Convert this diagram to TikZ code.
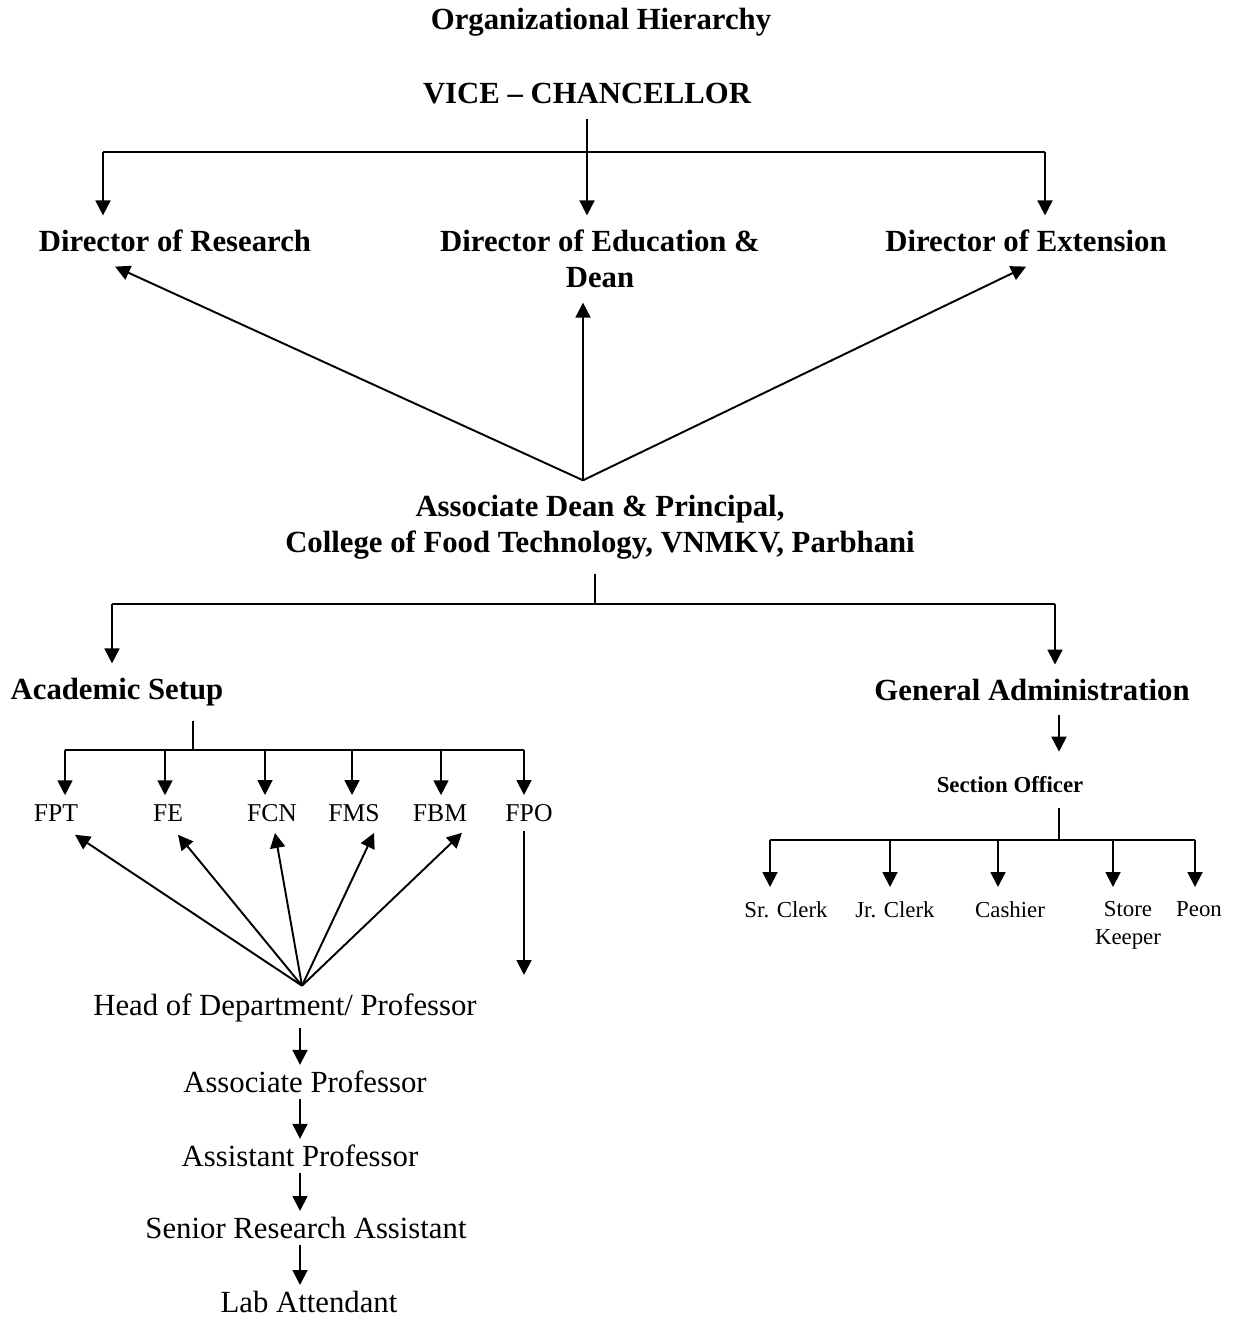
\documentclass[tikz,border=0pt]{standalone}
\usepackage{fontspec}
\setmainfont{Liberation Serif}
\usetikzlibrary{arrows.meta,calc}

\begin{document}
\begin{tikzpicture}[x=0.02cm, y=-0.02cm,
    head/.style={font=\fontsize{17.5}{20.5}\selectfont\bfseries, align=center, outer sep=5pt},
    rank/.style={font=\fontsize{17.5}{21}\selectfont},
    unit/.style={font=\fontsize{14.6}{17}\selectfont, outer sep=2pt},
    staff/.style={font=\fontsize{13}{15.5}\selectfont, align=center, anchor=north, outer sep=5pt},
    link/.style={line width=1.1pt},
    stem/.style={line width=0.8pt},
    arr/.style={line width=1.1pt, -{Triangle[length=8.5pt,width=8.5pt]}}]

    % Keep the page size
    \useasboundingbox (0,0) rectangle (1236,1317);

    % Title
    \node[head] (title) at (601,22) {Organizational Hierarchy};

    % Vice-Chancellor and the three directors
    \node[head] (vc) at (587,94) {VICE -- CHANCELLOR};
    \node[head] (dres) at (175,241) {Director of Research};
    \node[head] (dedu) at (600,259) {Director of Education \&\\Dean};
    \node[head] (dext) at (1026,241) {Director of Extension};

    \coordinate (vcL) at (103,152);
    \coordinate (vcR) at (1045,152);
    \draw[link] (vcL) -- (vcR);
    \draw[arr] (vcL) -- (vcL |- dres.north);
    \draw[arr] (vc.south) -- (vc.south |- dedu.north);
    \draw[arr] (vcR) -- (vcR |- dext.north);

    % Associate Dean reports to all three directors
    \node[head] (adean) at (600,527) {Associate Dean \& Principal,\\College of Food Technology, VNMKV, Parbhani};
    \coordinate (apex) at ($(adean.north)+(-17,0)$);
    \draw[arr] (apex) -- ($(dres.south)+(-60,0)$);
    \draw[arr] (apex) -- (apex |- dedu.south);
    \draw[arr] (apex) -- (dext.south);

    % Two wings of the college
    \node[head] (acad) at (117,692) {Academic Setup};
    \node[head] (gadm) at (1032,690) {General Administration};
    \coordinate (adL) at (112,604);
    \coordinate (adR) at (1055,604);
    \coordinate (adM) at (595,604);
    \draw[stem] (adean.south -| adM) -- (adM);
    \draw[link] (adL) -- (adR);
    \draw[arr] (adL) -- (adL |- acad.north);
    \draw[arr] (adR) -- (adR |- gadm.north);

    % Faculties under the academic setup
    \coordinate (acM) at (193,750);
    \draw[stem] (acad.south -| acM) -- (acM);
    \foreach \name/\lab/\x/\d in {fpt/FPT/56/65, fe/FE/168/165, fcn/FCN/272/265,
                                  fms/FMS/354/352, fbm/FBM/440/441, fpo/FPO/529/524}{
        \node[unit] (\name) at (\x,813) {\lab};
        \coordinate (\name-t) at (\d,750);
        \draw[arr] (\name-t) -- (\name-t |- \name.north);
    }
    \draw[link] (fpt-t) -- (fpo-t);

    % Teaching staff ladder
    \node[rank] (hod) at (285,1008) {Head of Department/ Professor};
    \node[rank] (asso) at (305,1082) {Associate Professor};
    \node[rank] (asst) at (300,1156) {Assistant Professor};
    \node[rank] (sra) at (306,1228) {Senior Research Assistant};
    \node[rank] (lab) at (309,1302) {Lab Attendant};
    \coordinate (ladder) at (300,0);
    \draw[arr] (hod.south -| ladder) -- (asso.north -| ladder);
    \draw[arr] (asso.south -| ladder) -- (asst.north -| ladder);
    \draw[arr] (asst.south -| ladder) -- (sra.north -| ladder);
    \draw[arr] (sra.south -| ladder) -- (lab.north -| ladder);

    % Every faculty is headed by the HoD
    \coordinate (hodtop) at ($(hod.north -| ladder)+(2,-2)$);
    \draw[arr] (hodtop) -- ($(fpt.south)+(19,4)$);
    \draw[arr] (hodtop) -- ($(fe.south)+(10,4)$);
    \draw[arr] (hodtop) -- ($(fcn.south)+(3,2)$);
    \draw[arr] (hodtop) -- ($(fms.south)+(20,2)$);
    \draw[arr] (hodtop) -- ($(fbm.south)+(22,2)$);
    \coordinate (fpoend) at (524,975);
    \draw[arr] (fpo.south -| fpoend) -- (fpoend);

    % General administration
    \node[staff, font=\fontsize{13}{15.5}\selectfont\bfseries, anchor=center] (so) at (1010,785) {Section Officer};
    \coordinate (gaX) at (1059,0);
    \draw[arr, shorten >=6pt] (gadm.south -| gaX) -- (so.north -| gaX);
    \coordinate (soM) at (1059,840);
    \draw[stem] (so.south -| soM) -- (soM);
    \foreach \name/\lab/\x/\d in {srclerk/Sr. Clerk/786/770, jrclerk/Jr. Clerk/895/890,
                                  cashier/Cashier/1010/998, keeper/Store\\Keeper/1128/1113,
                                  peon/Peon/1199/1195}{
        \node[staff] (\name) at (\x,887) {\lab};
        \coordinate (\name-t) at (\d,840);
        \draw[arr] (\name-t) -- (\name-t |- \name.north);
    }
    \draw[link] (srclerk-t) -- (peon-t);
\end{tikzpicture}
\end{document}
